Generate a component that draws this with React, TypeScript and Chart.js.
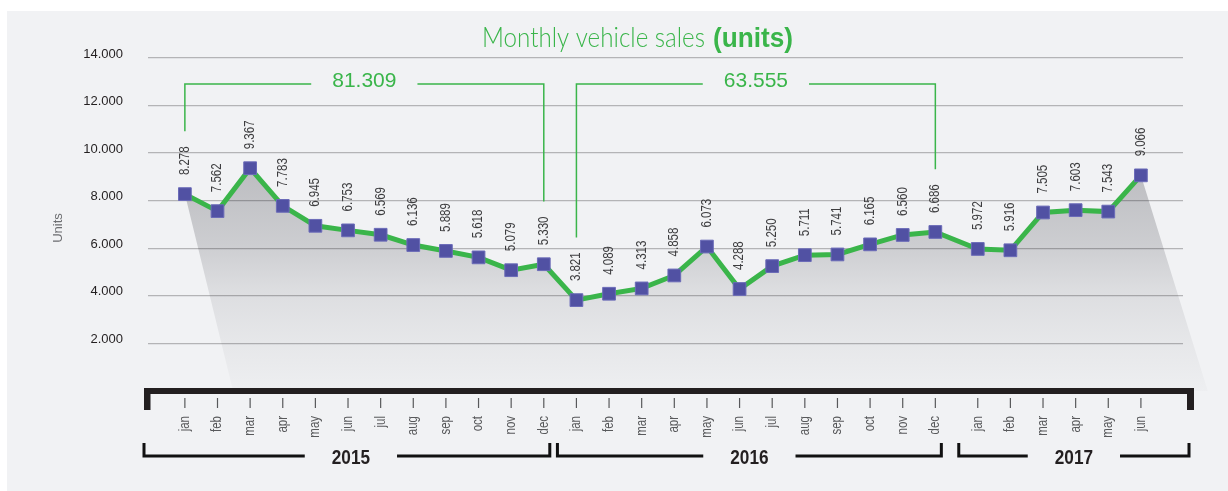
import React, { useEffect, useRef } from "react";
import { Chart, registerables } from "chart.js";

Chart.register(...registerables);

// ---------------- data ----------------
const years = ["2015", "2016", "2017"];
const months2015 = ["jan", "feb", "mar", "apr", "may", "jun", "jul", "aug", "sep", "oct", "nov", "dec"];
const months2016 = ["jan", "feb", "mar", "apr", "may", "jun", "jul", "aug", "sep", "oct", "nov", "dec"];
const months2017 = ["jan", "feb", "mar", "apr", "may", "jun"];
const sales2015 = [8278, 7562, 9367, 7783, 6945, 6753, 6569, 6136, 5889, 5618, 5079, 5330];
const sales2016 = [3821, 4089, 4313, 4858, 6073, 4288, 5250, 5711, 5741, 6165, 6560, 6686];
const sales2017 = [5972, 5916, 7505, 7603, 7543, 9066];
const yMin = 0;
const yMax = 14000;
const yStep = 2000;
const titleText = "Monthly vehicle sales";
const titleBoldText = "(units)";
const yAxisTitle = "Units";

// ---------------- style / layout ----------------
const GREEN = "#3ab54a";
const PURPLE = "#5151a3";
const DARK = "#231f20";
const GREY_TXT = "#58595b";
const BG = "#f1f2f4";
const SANS = "'Liberation Sans', Arial, Helvetica, sans-serif";
const LIGHT = "Lato, 'Liberation Sans', Arial, sans-serif";
const NARROW_X = 0.82; // horizontal compression for condensed look
const YEAR_GAP = [0, 0, 0.3]; // extra spacing (in month units) before each year block

const monthsByYear = [months2015, months2016, months2017];
const salesByYear = [sales2015, sales2016, sales2017];

type Pt = { x: number; y: number; month: string; year: number };
const points: Pt[] = [];
{
  let idx = 0;
  let off = 0;
  salesByYear.forEach((vals, k) => {
    off += YEAR_GAP[k];
    vals.forEach((v, j) => {
      points.push({ x: idx + off, y: v, month: monthsByYear[k][j], year: k });
      idx++;
    });
  });
}

const fmt = (v: number) => String(Math.round(v)).replace(/\B(?=(\d{3})+(?!\d))/g, ".");

function drawText(
  ctx: CanvasRenderingContext2D,
  txt: string,
  x: number,
  y: number,
  rot: number,
  align: CanvasTextAlign,
  baseline: CanvasTextBaseline,
  sx: number
) {
  ctx.save();
  ctx.translate(x, y);
  if (rot) ctx.rotate(rot);
  ctx.scale(sx, 1);
  ctx.textAlign = align;
  ctx.textBaseline = baseline;
  ctx.fillText(txt, 0, 0);
  ctx.restore();
}

const decorPlugin = {
  id: "decor",
  beforeDraw(chart: any) {
    const { ctx, width, height } = chart;
    ctx.save();
    ctx.fillStyle = "#ffffff";
    ctx.fillRect(0, 0, width, height);
    ctx.fillStyle = BG;
    ctx.fillRect(7, 11, width - 7, height - 11);
    ctx.restore();
  },
  beforeDatasetsDraw(chart: any) {
    const { ctx, chartArea } = chart;
    const els = chart.getDatasetMeta(0).data;
    if (!els.length) return;
    const bottom = chartArea.bottom;
    const first = els[0];
    const last = els[els.length - 1];
    ctx.save();
    ctx.beginPath();
    ctx.moveTo(first.x, first.y);
    els.forEach((e: any) => ctx.lineTo(e.x, e.y));
    ctx.lineTo(last.x + (bottom - last.y) * 0.31, bottom);
    ctx.lineTo(first.x + (bottom - first.y) * 0.245, bottom);
    ctx.closePath();
    const g = ctx.createLinearGradient(0, chartArea.top + 112, 0, bottom);
    g.addColorStop(0, "rgba(20,20,30,0.24)");
    g.addColorStop(0.34, "rgba(20,20,30,0.165)");
    g.addColorStop(0.54, "rgba(20,20,30,0.095)");
    g.addColorStop(0.77, "rgba(20,20,30,0.05)");
    g.addColorStop(1, "rgba(20,20,30,0.015)");
    ctx.fillStyle = g;
    ctx.fill();
    ctx.restore();
  },
  afterDatasetsDraw(chart: any) {
    const { ctx, chartArea } = chart;
    const els = chart.getDatasetMeta(0).data;
    const L = chartArea.left;
    const R = chartArea.right;
    const base = chartArea.bottom;
    ctx.save();

    // data labels
    ctx.font = `14px ${SANS}`;
    ctx.fillStyle = "#3d3d3f";
    const labelTop: number[] = [];
    els.forEach((e: any, i: number) => {
      const txt = fmt(points[i].y);
      const w = ctx.measureText(txt).width * NARROW_X;
      drawText(ctx, txt, e.x, e.y - 19, -Math.PI / 2, "left", "middle", NARROW_X);
      labelTop.push(e.y - 19 - w);
    });

    // yearly total brackets (complete years only)
    let start = 0;
    salesByYear.forEach((vals) => {
      const i0 = start;
      const i1 = start + vals.length - 1;
      start += vals.length;
      if (vals.length !== 12) return;
      const total = vals.reduce((a, b) => a + b, 0);
      const x0 = els[i0].x;
      const x1 = els[i1].x;
      const yL = 84;
      const txt = fmt(total);
      ctx.font = `21px ${SANS}`;
      const tw = ctx.measureText(txt).width;
      const cx = (x0 + x1) / 2;
      ctx.fillStyle = GREEN;
      drawText(ctx, txt, cx, 87, 0, "center", "alphabetic", 1);
      ctx.strokeStyle = GREEN;
      ctx.lineWidth = 1.5;
      ctx.beginPath();
      ctx.moveTo(x0, labelTop[i0] - 15);
      ctx.lineTo(x0, yL);
      ctx.lineTo(cx - tw / 2 - 21, yL);
      ctx.moveTo(cx + tw / 2 + 21, yL);
      ctx.lineTo(x1, yL);
      ctx.lineTo(x1, labelTop[i1] - 15);
      ctx.stroke();
    });

    // thick axis bar
    const barL = L - 4;
    const barR = R + 11;
    ctx.fillStyle = DARK;
    ctx.fillRect(barL, base - 3, barR - barL, 6);
    ctx.fillRect(barL, base - 3, 6.5, 22);
    ctx.fillRect(barR - 7, base - 3, 7, 22);

    // month ticks + labels
    ctx.strokeStyle = GREY_TXT;
    ctx.lineWidth = 1.2;
    ctx.fillStyle = GREY_TXT;
    ctx.font = `14px ${SANS}`;
    els.forEach((e: any, i: number) => {
      ctx.beginPath();
      ctx.moveTo(e.x, base + 7);
      ctx.lineTo(e.x, base + 17);
      ctx.stroke();
      drawText(ctx, points[i].month, e.x, base + 25, -Math.PI / 2, "right", "middle", NARROW_X);
    });

    // year brackets
    const yB = base + 65;
    let s = 0;
    const bounds: [number, number][] = [];
    salesByYear.forEach((vals) => {
      bounds.push([s, s + vals.length - 1]);
      s += vals.length;
    });
    ctx.font = `bold 20px ${SANS}`;
    bounds.forEach(([a, b], k) => {
      const left = k === 0 ? barL : els[a].x - 19;
      const right = k === bounds.length - 1 ? barR - 5 : els[b].x + 6;
      const cx = (left + right) / 2 + (k === 0 ? 4 : 0);
      const tw = ctx.measureText(years[k]).width * 0.86;
      ctx.strokeStyle = "#111111";
      ctx.lineWidth = 3;
      ctx.lineJoin = "miter";
      ctx.beginPath();
      ctx.moveTo(left, yB - 13);
      ctx.lineTo(left, yB);
      ctx.lineTo(cx - tw / 2 - 27, yB);
      ctx.moveTo(cx + tw / 2 + 27, yB);
      ctx.lineTo(right, yB);
      ctx.lineTo(right, yB - 13);
      ctx.stroke();
      ctx.fillStyle = DARK;
      drawText(ctx, years[k], cx, yB + 2, 0, "center", "middle", 0.86);
    });

    // title (light + bold part), condensed to the reference's widths
    ctx.fillStyle = GREEN;
    ctx.font = `300 28px ${LIGHT}`;
    const w1 = ctx.measureText(titleText).width;
    const s1 = 223 / w1;
    ctx.font = `bold 28px ${SANS}`;
    const w2 = ctx.measureText(titleBoldText).width;
    const s2 = 80 / w2;
    const gap = 8;
    const total = 223 + gap + 80;
    const tx = 637.5 - total / 2;
    ctx.font = `300 28px ${LIGHT}`;
    drawText(ctx, titleText, tx, 47, 0, "left", "alphabetic", s1);
    ctx.font = `bold 28px ${SANS}`;
    drawText(ctx, titleBoldText, tx + 223 + gap, 47, 0, "left", "alphabetic", s2);

    // y axis title
    ctx.font = `13px ${SANS}`;
    ctx.fillStyle = "#6d6e71";
    drawText(ctx, yAxisTitle, 58, 228, -Math.PI / 2, "center", "middle", 1);

    ctx.restore();
  },
};

export default function App() {
  const ref = useRef<HTMLCanvasElement | null>(null);
  useEffect(() => {
    if (!ref.current) return;
    const chart = new Chart(ref.current, {
      type: "line",
      data: {
        datasets: [
          {
            data: points.map((p) => ({ x: p.x, y: p.y })),
            borderColor: GREEN,
            borderWidth: 5,
            pointStyle: "rect",
            pointRadius: 9,
            pointBackgroundColor: PURPLE,
            pointBorderColor: "#6b6bb8",
            pointBorderWidth: 1,
            tension: 0,
            fill: false,
          },
        ],
      },
      options: {
        responsive: false,
        animation: false,
        layout: { padding: { top: 58, bottom: 100, right: 45, left: 0 } },
        plugins: {
          legend: { display: false },
          tooltip: { enabled: false },
          title: { display: false },
        },
        scales: {
          x: {
            type: "linear",
            display: false,
            min: -1.13,
            max: 30.59,
          },
          y: {
            min: yMin,
            max: yMax,
            afterFit: (s: any) => {
              s.width = 148;
            },
            ticks: {
              stepSize: yStep,
              padding: 25,
              labelOffset: -4,
              color: DARK,
              font: { family: SANS, size: 13 },
              callback: (v: any) => (Number(v) === 0 ? "" : fmt(Number(v))),
            },
            grid: {
              drawTicks: false,
              color: (c: any) => (c.tick && c.tick.value === 0 ? "rgba(0,0,0,0)" : "#b4b4b6"),
              lineWidth: 1.3,
            },
            border: { display: false },
          },
        },
      } as any,
      plugins: [decorPlugin],
    });
    return () => chart.destroy();
  }, []);
  return (
    <div style={{ position: "absolute", left: 0, top: 0, width: 1228, height: 491 }}>
      <canvas ref={ref} width={1228} height={491} style={{ display: "block", width: 1228, height: 491 }} />
    </div>
  );
}
